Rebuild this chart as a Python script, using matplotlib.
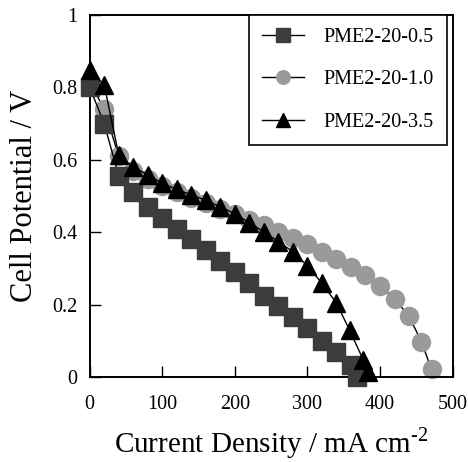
import matplotlib
matplotlib.use("Agg")
import matplotlib.pyplot as plt

plt.rcParams['font.family'] = ['Liberation Serif', 'DejaVu Serif']
plt.rcParams['mathtext.fontset'] = 'custom'
plt.rcParams['mathtext.rm'] = 'Liberation Serif'

# PME2-20-0.5 (squares)
x_05 = [0, 20, 40, 60, 80, 100, 120, 140, 160, 180, 200, 220, 240, 260, 280, 300, 320, 340, 360, 368]
v_05 = [0.80, 0.70, 0.555, 0.51, 0.47, 0.44, 0.41, 0.38, 0.35, 0.32, 0.29, 0.26, 0.225, 0.195, 0.165,
        0.135, 0.10, 0.07, 0.033, 0.0]

# PME2-20-1.0 (circles)
x_10 = [0, 20, 40, 60, 80, 100, 120, 140, 160, 180, 200, 220, 240, 260, 280, 300, 320, 340, 360, 380,
        400, 420, 440, 457, 471]
v_10 = [0.815, 0.74, 0.61, 0.57, 0.548, 0.527, 0.51, 0.495, 0.48, 0.465, 0.45, 0.435, 0.42, 0.40, 0.383,
        0.367, 0.346, 0.327, 0.304, 0.282, 0.252, 0.216, 0.168, 0.098, 0.021]

# PME2-20-3.5 (triangles)
x_35 = [0, 20, 40, 60, 80, 100, 120, 140, 160, 180, 200, 220, 240, 260, 280, 300, 320, 340, 358, 377, 383]
v_35 = [0.848, 0.807, 0.613, 0.581, 0.558, 0.535, 0.518, 0.503, 0.488, 0.470, 0.451, 0.426, 0.401, 0.374,
        0.346, 0.307, 0.259, 0.204, 0.130, 0.047, 0.015]

xticks = [0, 100, 200, 300, 400, 500]
yticks = [0, 0.2, 0.4, 0.6, 0.8, 1.0]
ytick_labels = ['0', '0.2', '0.4', '0.6', '0.8', '1']

fig = plt.figure(figsize=(4.68, 4.62), dpi=100)
ax = fig.add_axes([0.1917, 0.184, 0.7753, 0.7835])

ax.plot(x_05, v_05, color='black', lw=1, marker='s', ms=12.5, mfc='#3c3c3c', mec='#3c3c3c',
        label='PME2-20-0.5', clip_on=False, zorder=3)
ax.plot(x_10, v_10, color='black', lw=1, marker='o', ms=13, mfc='#9a9a9a', mec='#9a9a9a',
        label='PME2-20-1.0', clip_on=False, zorder=2)
ax.plot(x_35, v_35, color='black', lw=1, marker='^', ms=13, mfc='black', mec='black',
        label='PME2-20-3.5', clip_on=False, zorder=4)

ax.set_xlim(0, 500)
ax.set_ylim(0, 1)
ax.set_xticks(xticks)
ax.set_yticks(yticks)
ax.set_yticklabels(ytick_labels)
ax.tick_params(direction='in', length=8, width=1, labelsize=14.5, top=False, right=False)
ax.tick_params(axis='x', pad=13)
ax.tick_params(axis='y', pad=9)
for s in ax.spines.values():
    s.set_linewidth(1.4)

ax.set_xlabel(r'Current Density / mA cm$^{\text{-2}}$', fontsize=21, labelpad=8)
ax.set_ylabel('Cell Potential / V', fontsize=22, labelpad=9)

leg = ax.legend(loc='upper right', bbox_to_anchor=(1 - 6 / 362.8, 1), fontsize=14.5, frameon=True,
                fancybox=False, edgecolor='black', handlelength=2.1, labelspacing=1.15,
                borderpad=0.65, handletextpad=0.95, borderaxespad=0, markerscale=0.75)
leg.get_frame().set_linewidth(1.2)
leg.get_frame().set_alpha(1)

fig.savefig('out.png', dpi=100)
